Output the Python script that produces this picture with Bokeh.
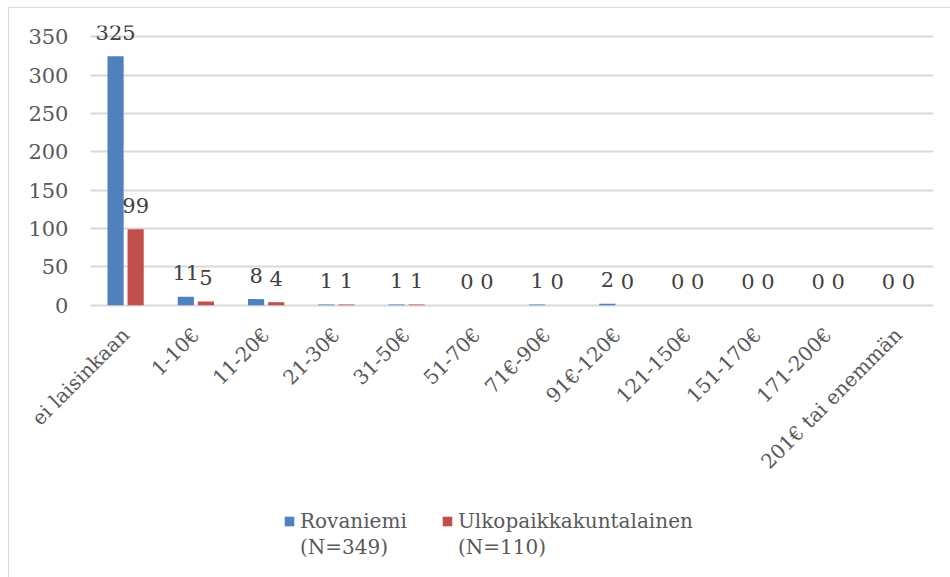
from bokeh.plotting import figure
from bokeh.models import ColumnDataSource, FixedTicker, Legend, LegendItem, Range1d, BoxAnnotation
from bokeh.transform import dodge
from bokeh.core.properties import value
from bokeh.embed import file_html
from bokeh.resources import INLINE
import math

categories = ["ei laisinkaan", "1-10€", "11-20€", "21-30€", "31-50€", "51-70€",
              "71€-90€", "91€-120€", "121-150€", "151-170€", "171-200€", "201€ tai enemmän"]
rovaniemi = [325, 11, 8, 1, 1, 0, 1, 2, 0, 0, 0, 0]
ulkopaikka = [99, 5, 4, 1, 1, 0, 0, 0, 0, 0, 0, 0]
series_names = ["Rovaniemi", "Ulkopaikkakuntalainen"]
series_n = ["(N=349)", "(N=110)"]
y_ticks = [0, 50, 100, 150, 200, 250, 300, 350]

xs = list(range(len(categories)))
src = ColumnDataSource(dict(x=xs, cat=categories, r=rovaniemi, u=ulkopaikka,
                            rl=[str(v) for v in rovaniemi], ul=[str(v) for v in ulkopaikka]))

FONT = "DejaVu Serif"
# the frame reaches down to the legend and left past the axis labels;
# both axes are pinned inside it
p = figure(x_range=Range1d(-1.425, len(categories) - 0.5), y_range=(-352.6, 365),
           frame_width=908, frame_height=550,
           output_backend="svg", toolbar_location=None,
           min_border_left=16, min_border_right=17, min_border_top=17, min_border_bottom=2,
           styles={"border-left": "1px solid #d9d9d9", "border-top": "1px solid #d9d9d9",
                   "margin-left": "8px", "margin-top": "7px"})
p.outline_line_color = None

BLUE = "#4F81BD"
RED = "#C0504D"
rb = p.vbar(x=dodge("x", -0.143), top="r", width=0.23, source=src,
            fill_color=BLUE, line_color=None)
ub = p.vbar(x=dodge("x", 0.143), top="u", width=0.23, source=src,
            fill_color=RED, line_color=None)
# invisible renderer used for the second legend line
blank = p.vbar(x="x", top="u", width=0.01, source=src, fill_alpha=0, line_alpha=0)

p.text(x=dodge("x", -0.143), y="r", text="rl", source=src,
       text_align="center", text_baseline="alphabetic", y_offset=-24,
       text_font=value(FONT), text_font_size="21px", text_color="#404040")
p.text(x=dodge("x", 0.143), y="u", text="ul", source=src,
       text_align="center", text_baseline="alphabetic", y_offset=-24,
       text_font=value(FONT), text_font_size="21px", text_color="#404040")

p.yaxis.fixed_location = -0.5
p.yaxis.ticker = FixedTicker(ticks=y_ticks)
p.yaxis.axis_line_color = None
p.yaxis.major_tick_line_color = None
p.yaxis.minor_tick_line_color = None
p.yaxis.major_label_standoff = 16
p.yaxis.major_label_text_font = FONT
p.yaxis.major_label_text_font_size = "21px"
p.yaxis.major_label_text_color = "#595959"

p.xaxis.fixed_location = 0
p.xaxis.ticker = FixedTicker(ticks=xs)
p.xaxis.major_label_overrides = {i: c for i, c in zip(xs, categories)}
p.xaxis.axis_line_color = None
p.xaxis.major_tick_line_color = None
p.xaxis.minor_tick_line_color = None
p.xaxis.major_label_orientation = math.pi / 4
p.xaxis.major_label_standoff = 20
p.xaxis.major_label_text_font = FONT
p.xaxis.major_label_text_font_size = "20px"
p.xaxis.major_label_text_color = "#595959"

p.xgrid.grid_line_color = None
p.ygrid.grid_line_color = "#d9d9d9"
p.ygrid.grid_line_width = 2

# keep the grid lines starting at the first category, as in the original
p.add_layout(BoxAnnotation(right=-0.5, fill_color="white", fill_alpha=1,
                           line_color=None, level="underlay"))

legend = Legend(items=[LegendItem(label=series_names[0], renderers=[rb]),
                       LegendItem(label=series_n[0], renderers=[blank]),
                       LegendItem(label=series_names[1], renderers=[ub]),
                       LegendItem(label=series_n[1], renderers=[blank])],
                orientation="vertical", ncols=2, location=(258, 16),
                label_text_font=FONT, label_text_font_size="20px",
                label_text_color="#595959", glyph_width=12, glyph_height=12,
                label_standoff=5, spacing=2, label_width=139, border_line_color=None,
                background_fill_alpha=0, margin=0, padding=0)
p.add_layout(legend, "center")

open("out.html", "w").write(file_html(p, INLINE))
